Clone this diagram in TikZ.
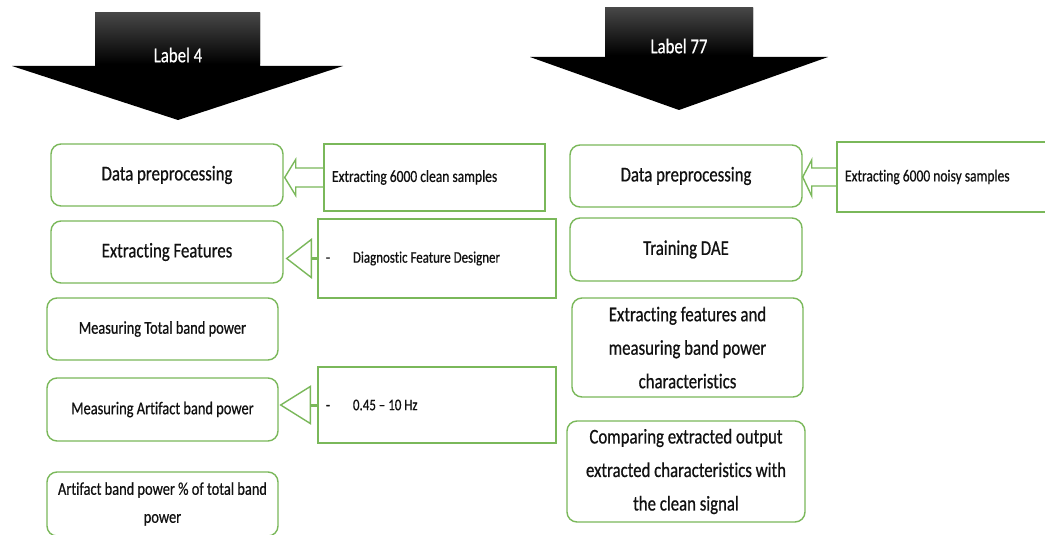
\documentclass[tikz,border=0pt]{standalone}
\usepackage{fontspec}
\setmainfont[FakeStretch=0.8, FakeBold=0.6, Ligatures=NoCommon]{Carlito}
\usetikzlibrary{calc}

\definecolor{boxgreen}{HTML}{7AB85A}
\definecolor{txt}{HTML}{111111}
\definecolor{shafttop}{HTML}{474747}

\begin{document}
\begin{tikzpicture}[x=1pt,y=-1pt,
  stepbox/.style={draw=boxgreen, line width=1.4pt, rounded corners=10pt,
    fill=white, text=txt, align=center, inner sep=0pt},
  notebox/.style={draw=boxgreen, line width=1.4pt, fill=white, text=txt,
    inner sep=0pt},
  conn/.style={draw=boxgreen, line width=1.4pt, line join=miter},
  big/.style={font=\fontsize{21}{33.5}\selectfont},
  mid/.style={font=\fontsize{18}{28}\selectfont},
  small/.style={font=\fontsize{16.9}{20}\selectfont},
  tiny/.style={font=\fontsize{16.2}{19}\selectfont},
  lbl/.style={text=white, font=\fontsize{21}{24}\selectfont}
]
\path[use as bounding box, fill=white] (0,0) rectangle (1045,535);
\clip (0,0) rectangle (1045,535);

% big downward block arrows with shaded shafts
\fill[black] (95,13) -- (260,13) -- (260,66) -- (343,66) -- (178,120)
  -- (12,66) -- (95,66) -- cycle;
\shade[top color=shafttop, bottom color=black] (95,13) rectangle (260,64);
\fill[black] (605,8) -- (753,8) -- (753,57) -- (828,57) -- (679,110)
  -- (530,57) -- (605,57) -- cycle;
\shade[top color=shafttop, bottom color=black] (605,8) rectangle (753,55);
\node[lbl] (lab4) at (178,55) {Label 4};
\node[lbl] (lab77) at (679,46) {Label 77};

% left column
\node[stepbox, big, minimum width=232pt, minimum height=62pt] (dp1) at (167,175) {Data preprocessing};
\node[stepbox, big, minimum width=232pt, minimum height=62pt] (ef1) at (167,252) {Extracting Features};
\node[stepbox, mid, minimum width=231pt, minimum height=62pt] (tot) at (162.5,329) {Measuring Total band power};
\node[stepbox, mid, minimum width=231pt, minimum height=63pt] (art) at (162.5,409.5) {Measuring Artifact band power};
\node[stepbox, mid, minimum width=231pt, minimum height=64pt] (pct) at (162.5,504) {Artifact band power \% of total band\\power};

% notes beside the left column
\node[notebox, small, minimum width=221pt, minimum height=67pt] (clean) at (434.5,177.5)
  {\makebox[205pt][l]{Extracting 6000 clean samples}};
\node[notebox, tiny, minimum width=238pt, minimum height=79pt] (diag) at (437,258.5)
  {\makebox[222pt][l]{-\hspace{23pt}Diagnostic Feature Designer}};
\node[notebox, tiny, minimum width=238pt, minimum height=76pt] (hz) at (437,405)
  {\makebox[222pt][l]{-\hspace{23pt}0.45 – 10 Hz}};

% right column
\node[stepbox, big, minimum width=232pt, minimum height=62pt] (dp2) at (686,176) {Data preprocessing};
\node[stepbox, big, minimum width=232pt, minimum height=63pt] (dae) at (686,249.5) {Training DAE};
\node[stepbox, big, minimum width=231pt, minimum height=99pt] (efm) at (687.5,347.5) {Extracting features and\\measuring band power\\characteristics};
\node[stepbox, big, minimum width=238pt, minimum height=101pt] (cmp) at (686,471.5) {Comparing extracted output\\extracted characteristics with\\the clean signal};

\node[notebox, small, minimum width=230pt, minimum height=70pt] (noisy) at (952,177)
  {\makebox[214pt][l]{Extracting 6000 noisy samples}};

% hollow block arrows
\coordinate (t1) at ($(dp1.east |- clean.west)+(1,0)$);
\draw[conn] ($(clean.west)+(0,-9.5)$) -- ($(t1)+(11,-9.5)$) -- ($(t1)+(11,-18)$)
  -- (t1) -- ($(t1)+(11,18)$) -- ($(t1)+(11,9.5)$) -- ($(clean.west)+(0,9.5)$);
\coordinate (t2) at ($(dp2.east |- noisy.west)+(0,0)$);
\draw[conn] ($(noisy.west)+(0,-9)$) -- ($(t2)+(9,-9)$) -- ($(t2)+(9,-17)$)
  -- (t2) -- ($(t2)+(9,19)$) -- ($(t2)+(9,9)$) -- ($(noisy.west)+(0,9)$);

% open triangle connectors
\draw[conn, line width=3pt] (diag.west) -- ($(diag.west)+(-6,0)$);
\draw[conn] ($(diag.west)+(-6,-19)$) -- ($(ef1.east |- diag.west)+(3,0)$)
  -- ($(diag.west)+(-6,19)$) -- cycle;
\draw[conn, line width=3pt] (hz.west) -- ($(hz.west)+(-7,0)$);
\draw[conn] ($(hz.west)+(-7,-18.5)$) -- ($(art.east |- hz.west)+(2,0)$)
  -- ($(hz.west)+(-7,18.5)$) -- cycle;
\end{tikzpicture}
\end{document}
